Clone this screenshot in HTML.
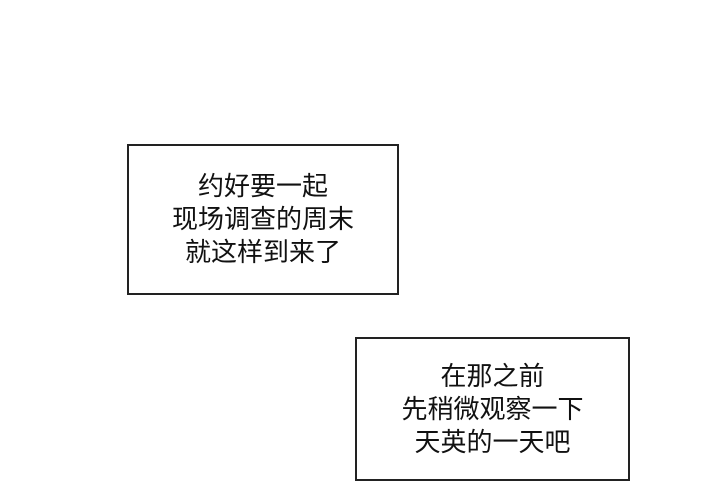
<!DOCTYPE html>
<html><head><meta charset="utf-8"><style>
html,body{margin:0;padding:0;background:#fff;}
body{width:720px;height:500px;position:relative;overflow:hidden;font-family:"Liberation Sans","Noto Sans CJK SC",sans-serif;}
.b{position:absolute;border:2px solid #222;box-sizing:border-box;background:#fff;display:flex;flex-direction:column;justify-content:center;align-items:center;color:#111;font-size:26px;line-height:33px;}
</style></head><body>
<div class="b" style="left:127px;top:144px;width:272px;height:151px;"><div>约好要一起</div><div>现场调查的周末</div><div>就这样到来了</div></div>
<div class="b" style="left:355px;top:337px;width:275px;height:144px;"><div>在那之前</div><div>先稍微观察一下</div><div>天英的一天吧</div></div>
</body></html>
